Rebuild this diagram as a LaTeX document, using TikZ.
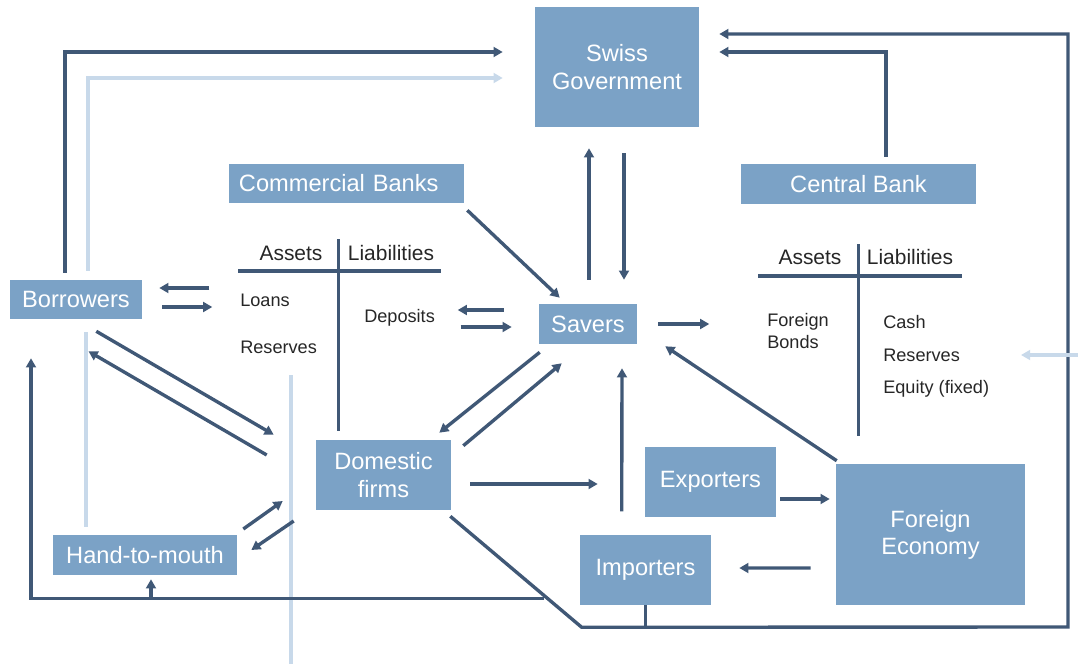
\documentclass[tikz,border=0pt]{standalone}
\usepackage{fontspec}
\setmainfont{Liberation Sans}
\usetikzlibrary{arrows.meta,calc}
\definecolor{boxblue}{RGB}{123,162,198}
\definecolor{flowdark}{RGB}{64,88,118}
\definecolor{flowlight}{RGB}{200,217,234}
\definecolor{textgray}{RGB}{38,38,38}

\begin{document}
\begin{tikzpicture}[
    x=0.025cm, y=-0.025cm,
    >={Triangle[length=6.5pt,width=7pt]},
    sector/.style={
        fill=boxblue, text=white, inner sep=0pt, align=center,
        font=\fontsize{16.8}{19.3}\selectfont
    },
    flow/.style={draw=flowdark, line width=2.4pt},
    ghost/.style={draw=flowlight, line width=2.4pt},
    head/.style={text=textgray, font=\fontsize{14.9}{17}\selectfont},
    item/.style={
        text=textgray, anchor=west, align=left, inner sep=0pt,
        font=\fontsize{12.9}{15.6}\selectfont
    }
]
\useasboundingbox (0,0) rectangle (1078,664);

% Sektoren
\node[sector, minimum width=4.1cm, minimum height=3cm] (gov) at (617,67) {Swiss\\Government};
\node[sector, align=left, text width=5.375cm, inner xsep=0.25cm, minimum height=0.975cm]
    (cbanks) at (346.5,183.5) {Commercial Banks};
\node[sector, minimum width=5.875cm, minimum height=1cm] (central) at (858.5,184) {Central Bank};
\node[sector, minimum width=3.3cm, minimum height=0.975cm] (borrow) at (76,299.5) {Borrowers};
\node[sector, minimum width=2.45cm, minimum height=1cm] (savers) at (588,324) {Savers};
\node[sector, minimum width=3.375cm, minimum height=1.75cm] (domestic) at (383.5,475) {Domestic\\firms};
\node[sector, minimum width=3.275cm, minimum height=1.75cm] (exporters) at (710.5,482) {Exporters};
\node[sector, minimum width=4.725cm, minimum height=3.525cm] (foreign) at (930.5,534.5) {Foreign\\Economy};
\node[sector, minimum width=3.275cm, minimum height=1.75cm] (importers) at (645.5,570) {Importers};
\node[sector, minimum width=4.6cm, minimum height=1cm] (htm) at (145,555) {Hand-to-mouth};

% Bilanz Geschaeftsbanken
\node[head] (cbA) at (291,253) {Assets};
\node[head] (cbL) at (391,253) {Liabilities};
\draw[flow] (238,271) -- (441,271);
\draw[flow] (338.5,239) -- (338.5,431);
\node[item] (cbloans) at (240,300) {Loans};
\node[item] (cbres) at (240,347) {Reserves};
\node[item] (cbdep) at (364,318) {Deposits};

% Bilanz Zentralbank
\node[head] (snbA) at (810,257) {Assets};
\node[head] (snbL) at (910,257) {Liabilities};
\draw[flow] (758,276) -- (962,276);
\draw[flow] (858.5,244) -- (858.5,436);
\node[item] (snbfb) at (767,331) {Foreign\\Bonds};
\node[item] (snbcash) at (883,322) {Cash};
\node[item] (snbres) at (883,355) {Reserves};
\node[item] (snbeq) at (883,389) {Equity (fixed)};

% Borrowers -> Government
\draw[flow,->] ($(borrow.north)+(-11,-7)$) |- ($(gov.west)+(-32,-15)$);
\draw[ghost,->] ($(borrow.north)+(12,-9)$) |- ($(gov.west)+(-32,11)$);
\draw[ghost] ($(borrow.south)+(10,13)$) -- ($(htm.north)+(-59,-8)$);
\draw[ghost] (291,375) -- (291,664);

% Borrowers <-> Loans
\draw[flow,->] ($(borrow.east)+(67,-11.5)$) -- ($(borrow.east)+(17,-11.5)$);
\draw[flow,->] ($(borrow.east)+(20,7.5)$) -- ($(borrow.east)+(70,7.5)$);

% Deposits <-> Savers
\draw[flow,->] ($(savers.west)+(-35,-14)$) -- ($(savers.west)+(-81,-14)$);
\draw[flow,->] ($(savers.west)+(-78,3)$) -- ($(savers.west)+(-27,3)$);

% Commercial Banks -> Savers
\draw[flow,->] ($(cbanks.south east)+(3,7)$) -- ($(savers.north west)+(21,-6)$);

% Government <-> Savers
\draw[flow,->] ($(savers.north)+(1,-24)$) -- ($(gov.south)+(-28,21)$);
\draw[flow,->] ($(gov.south)+(7,26)$) -- ($(savers.north)+(36,-24)$);

% Central Bank -> Government
\draw[flow,->] ($(central.north)+(27.5,-7)$) |- ($(gov.east)+(20,-15)$);

% aeussere Schleife
\coordinate (loopSE) at (1068,627);
\draw[flow,->] ($(domestic.south east)+(-1,6)$) -- ($(importers.south west)+(2,22)$)
    -- (loopSE) |- ($(gov.east)+(20,-33)$);
\draw[flow] (importers.south) -- (importers.south |- loopSE);

% untere Schleife
\draw[flow,->] ($(domestic.south east)+(93,88)$) -| ($(borrow.south)+(-45,39)$);
\draw[flow,->] ($(htm.south)+(6,23)$) -- ($(htm.south)+(6,4)$);

% Borrowers <-> Domestic firms
\draw[flow,->] ($(borrow.south east)+(-46,12)$) -- ($(domestic.north west)+(-42,-5)$);
\draw[flow,->] ($(domestic.west)+(-49,-20)$) -- ($(borrow.south)+(12.5,32)$);

% Savers <-> Domestic firms
\draw[flow,->] ($(savers.south west)+(1,8)$) -- ($(domestic.north east)+(-12,-7)$);
\draw[flow,->] ($(domestic.north east)+(12,6)$) -- ($(savers.south west)+(23,19)$);

% Hand-to-mouth <-> Domestic firms
\draw[flow,->] ($(htm.east)+(6,-26)$) -- ($(domestic.west)+(-33,26)$);
\draw[flow,->] ($(domestic.west)+(-22,46)$) -- ($(htm.east)+(14,-5)$);

% Handel
\draw[flow,->] ($(domestic.east)+(19,9)$) -- ($(exporters.west)+(-47,2)$);
\draw[flow,->] ($(exporters.south west)+(-23,-6)$) -- ($(savers.south)+(34,24)$);
\draw[flow,->] ($(exporters.east)+(4,17)$) -- ($(foreign.west)+(-6,-35.5)$);
\draw[flow,->] ($(foreign.west)+(-25,33.5)$) -- ($(importers.east)+(28,-2)$);
\draw[flow,->] ($(foreign.north west)+(1,-3)$) -- ($(savers.south east)+(28,2)$);

% Savers -> Foreign Bonds, Zufluss Reserves
\draw[flow,->] ($(savers.east)+(21,0)$) -- ($(savers.east)+(72,0)$);
\draw[ghost,->] ($(snbres.west)+(195,0)$) -- ($(snbres.west)+(138,0)$);

\end{tikzpicture}
\end{document}
